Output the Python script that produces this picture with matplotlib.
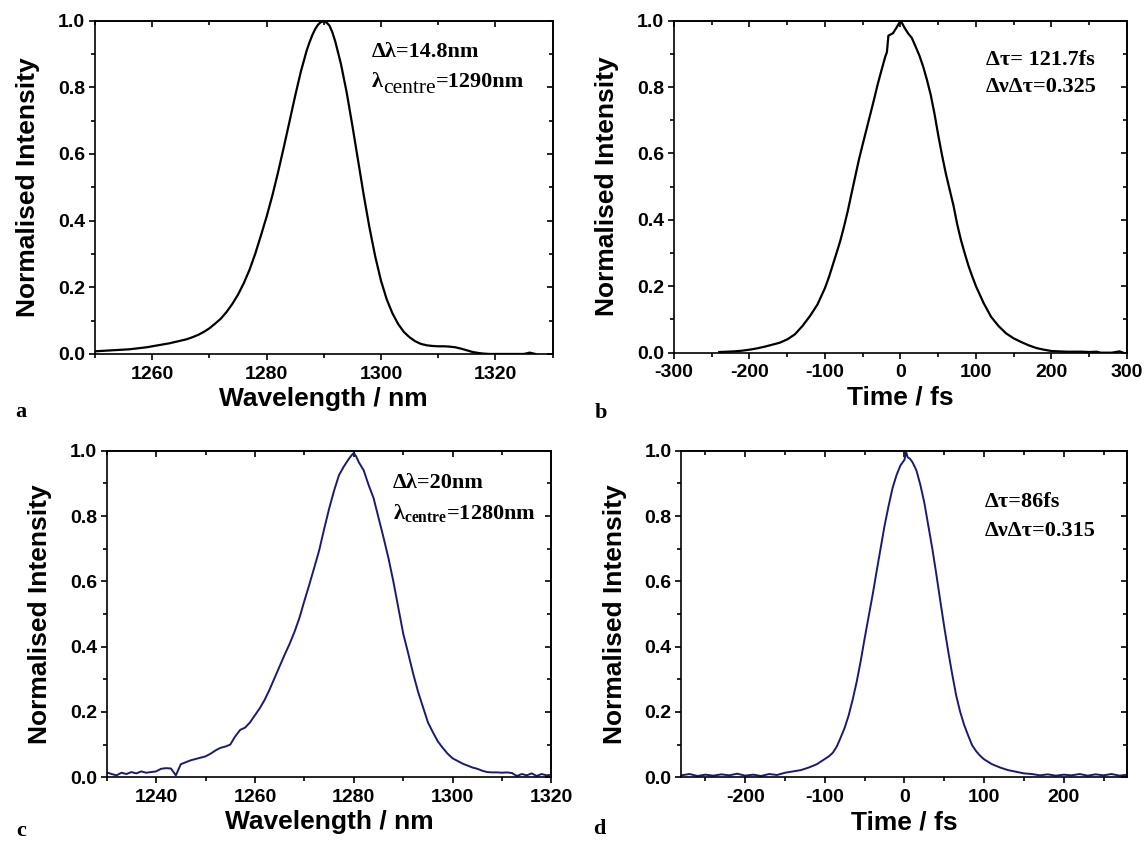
import matplotlib
matplotlib.use("Agg")
import matplotlib.pyplot as plt
from matplotlib.ticker import MultipleLocator

plt.rcParams["axes.unicode_minus"] = False
plt.rcParams["mathtext.fontset"] = "custom"
plt.rcParams["mathtext.rm"] = "Liberation Serif"
plt.rcParams["mathtext.bf"] = "Liberation Serif:bold"

# ---------------- data ----------------
# (a) spectrum, black
wl_a = [1250, 1251, 1252, 1253, 1254, 1255, 1256, 1257, 1258, 1259,
        1260, 1261, 1262, 1263, 1264, 1265, 1266, 1267, 1268, 1269,
        1270, 1271, 1272, 1273, 1274, 1275, 1276, 1277, 1278, 1279,
        1280, 1281, 1282, 1283, 1284, 1285, 1286, 1287, 1287.5, 1288,
        1288.5, 1289, 1289.5, 1290, 1290.5, 1291, 1291.5, 1292, 1293, 1294,
        1295, 1296, 1297, 1298, 1299,
        1300, 1301, 1302, 1303, 1304, 1305, 1306, 1307, 1308, 1309,
        1310, 1311, 1312, 1313, 1314, 1315, 1316, 1317, 1318, 1319,
        1320, 1321, 1322, 1323, 1324, 1325, 1326, 1327]
int_a = [0.008, 0.009, 0.010, 0.011, 0.012, 0.013, 0.014, 0.016, 0.018, 0.020,
         0.023, 0.026, 0.029, 0.032, 0.036, 0.040, 0.044, 0.050, 0.057, 0.066,
         0.077, 0.091, 0.106, 0.126, 0.150, 0.178, 0.212, 0.252, 0.300, 0.355,
         0.412, 0.475, 0.545, 0.620, 0.697, 0.775, 0.848, 0.910, 0.935, 0.957,
         0.975, 0.988, 0.996, 0.998, 0.994, 0.985, 0.965, 0.938, 0.870, 0.785,
         0.685, 0.580, 0.475, 0.378, 0.292,
         0.220, 0.164, 0.122, 0.090, 0.066, 0.050, 0.038, 0.030, 0.026, 0.024,
         0.023, 0.023, 0.022, 0.020, 0.016, 0.011, 0.006, 0.003, 0.001, 0.000,
         0.000, 0.000, 0.000, 0.000, 0.000, 0.000, 0.004, 0.000]

# (b) autocorrelation, black
t_b = [-240, -230, -220, -210, -200, -190, -180, -170, -160, -150,
       -140, -130, -120, -110, -100, -95, -90, -85, -80, -75,
       -70, -65, -60, -55, -50, -45, -40, -35, -30, -25,
       -20, -18, -16, -10, -5, -2, 0, 2, 5, 10,
       15, 20, 25, 30, 35, 40, 45, 50, 55, 60,
       65, 70, 75, 80, 85, 90, 95, 100, 110, 120,
       130, 140, 150, 160, 170, 180, 190, 200, 210, 220,
       230, 240, 250, 260, 265, 280, 290, 295]
int_b = [0.002, 0.003, 0.004, 0.006, 0.009, 0.013, 0.018, 0.024, 0.030, 0.040,
         0.055, 0.080, 0.110, 0.145, 0.195, 0.226, 0.262, 0.298, 0.335, 0.378,
         0.425, 0.478, 0.530, 0.582, 0.628, 0.673, 0.718, 0.763, 0.810, 0.852,
         0.893, 0.905, 0.955, 0.962, 0.980, 0.992, 0.997, 0.993, 0.980, 0.962,
         0.948, 0.922, 0.895, 0.862, 0.822, 0.777, 0.720, 0.655, 0.595, 0.540,
         0.492, 0.445, 0.388, 0.340, 0.300, 0.262, 0.230, 0.200, 0.150, 0.108,
         0.080, 0.058, 0.043, 0.032, 0.022, 0.014, 0.009, 0.005, 0.004, 0.003,
         0.003, 0.003, 0.002, 0.003, 0.000, 0.000, 0.004, 0.000]

# (c) spectrum, navy
wl_c = [1230, 1231, 1232, 1233, 1234, 1235, 1236, 1237, 1238, 1239,
        1240, 1241, 1242, 1243, 1244, 1245, 1246, 1247, 1248, 1249,
        1250, 1251, 1252, 1253, 1254, 1255, 1256, 1257, 1258, 1259,
        1260, 1261, 1262, 1263, 1264, 1265, 1266, 1267, 1268, 1269,
        1270, 1271, 1272, 1273, 1274, 1275, 1276, 1277, 1278, 1279,
        1279.5, 1280, 1280.5, 1281, 1282, 1283, 1284, 1285, 1286, 1287,
        1288, 1289, 1290, 1291, 1292, 1293, 1294, 1295, 1296, 1297,
        1298, 1299, 1300, 1301, 1302, 1303, 1304, 1305, 1306, 1307,
        1308, 1309, 1310, 1311, 1312, 1313, 1314, 1315, 1316, 1317,
        1318, 1319, 1320]
int_c = [0.015, 0.010, 0.006, 0.014, 0.010, 0.016, 0.012, 0.018, 0.014, 0.016,
         0.018, 0.026, 0.028, 0.027, 0.006, 0.040, 0.046, 0.052, 0.056, 0.060,
         0.064, 0.072, 0.082, 0.090, 0.094, 0.100, 0.125, 0.145, 0.152, 0.168,
         0.190, 0.212, 0.238, 0.270, 0.305, 0.340, 0.375, 0.408, 0.445, 0.488,
         0.540, 0.590, 0.642, 0.695, 0.760, 0.822, 0.877, 0.925, 0.952, 0.975,
         0.985, 0.993, 0.982, 0.965, 0.940, 0.895, 0.855, 0.795, 0.735, 0.672,
         0.600, 0.520, 0.440, 0.380, 0.318, 0.262, 0.215, 0.168, 0.138, 0.110,
         0.090, 0.072, 0.058, 0.050, 0.042, 0.036, 0.030, 0.026, 0.020, 0.016,
         0.015, 0.015, 0.014, 0.015, 0.013, 0.004, 0.010, 0.006, 0.012, 0.004,
         0.010, 0.006, 0.008]

# (d) autocorrelation, navy
t_d = [-280, -270, -260, -250, -240, -230, -220, -210, -200, -190,
       -180, -170, -160, -150, -140, -130, -120, -110, -100, -95,
       -90, -85, -80, -75, -70, -65, -60, -55, -50, -45,
       -40, -35, -30, -25, -20, -15, -10, -5, 0, 2,
       4, 7, 10, 15, 20, 25, 30, 35, 40, 45, 50,
       55, 60, 65, 70, 75, 80, 85, 90, 95, 100,
       110, 120, 130, 140, 150, 160, 170, 180, 190, 200,
       210, 220, 230, 240, 250, 260, 270, 280]
int_d = [0.006, 0.010, 0.004, 0.008, 0.005, 0.009, 0.006, 0.011, 0.005, 0.008,
         0.004, 0.010, 0.007, 0.014, 0.018, 0.022, 0.030, 0.040, 0.056, 0.064,
         0.075, 0.094, 0.122, 0.152, 0.190, 0.238, 0.292, 0.355, 0.425, 0.492,
         0.558, 0.630, 0.700, 0.770, 0.830, 0.885, 0.925, 0.955, 0.972, 0.997,
         0.980, 0.975, 0.965, 0.940, 0.895, 0.840, 0.770, 0.700, 0.622, 0.540, 0.460,
         0.385, 0.315, 0.250, 0.200, 0.160, 0.128, 0.098, 0.080, 0.066, 0.055,
         0.040, 0.030, 0.022, 0.017, 0.012, 0.010, 0.006, 0.009, 0.005, 0.008,
         0.006, 0.010, 0.005, 0.009, 0.006, 0.010, 0.005, 0.008]

xlabels = ["Wavelength / nm", "Time / fs", "Wavelength / nm", "Time / fs"]
ylabel = "Normalised Intensity"
panel_letters = ["a", "b", "c", "d"]
notes = [
    ["\u0394\u03bb=14.8nm", None],
    ["\u0394\u03c4= 121.7fs", "\u0394\u03bd\u0394\u03c4=0.325"],
    ["\u0394\u03bb=20nm", "\u03bb$_{\\mathregular{centre}}$=1280nm"],
    ["\u0394\u03c4=86fs", "\u0394\u03bd\u0394\u03c4=0.315"],
]
# panel (a) second line is built from three pieces (large plain subscript)
centre_a = ["\u03bb", "centre", "=1290nm"]

# ---------------- style ----------------
SANS = "Liberation Sans"
SERIF = "Liberation Serif"
BLACK = "#000000"
NAVY = "#1a1a72"

fig = plt.figure(figsize=(11.48, 8.47), dpi=100)

rects = [
    [0.0828, 0.5821, 0.4813 - 0.0828, 0.9756 - 0.5821],
    [0.5871, 0.5836, 0.9817 - 0.5871, 0.9756 - 0.5836],
    [0.0929, 0.0823, 0.4804 - 0.0929, 0.4679 - 0.0823],
    [0.5936, 0.0823, 0.9821 - 0.5936, 0.4679 - 0.0823],
]
xlims = [(1250, 1330), (-300, 300), (1230, 1320), (-280, 280)]
xmajor = [20, 100, 20, 100]
xminor = [10, 50, 10, 50]
series = [(wl_a, int_a, BLACK, 1.6), (t_b, int_b, BLACK, 1.6),
          (wl_c, int_c, NAVY, 1.4), (t_d, int_d, NAVY, 1.4)]
note_pos = [(0.605, 0.907, 0.815), (0.689, 0.881, 0.800),
            (0.643, 0.900, 0.806), (0.680, 0.844, 0.755)]
letter_pos = [(0.013, 0.514), (0.518, 0.512), (0.014, 0.019), (0.517, 0.021)]

for i in range(4):
    ax = fig.add_axes(rects[i])
    x, y, col, lw = series[i]
    ax.plot(x, y, color=col, lw=lw, solid_joinstyle="round")
    ax.set_xlim(*xlims[i])
    ax.set_ylim(0, 1.0)
    ax.xaxis.set_major_locator(MultipleLocator(xmajor[i]))
    ax.xaxis.set_minor_locator(MultipleLocator(xminor[i]))
    ax.yaxis.set_major_locator(MultipleLocator(0.2))
    ax.yaxis.set_minor_locator(MultipleLocator(0.1))
    ax.yaxis.set_major_formatter(plt.FuncFormatter(lambda v, p: f"{v:.1f}"))
    ax.xaxis.set_major_formatter(plt.FuncFormatter(lambda v, p: f"{v:.0f}"))
    for sp in ax.spines.values():
        sp.set_linewidth(1.2)
    ax.tick_params(which="both", direction="out", bottom=True, left=True,
                   top=False, right=False, width=1.2)
    ax.tick_params(which="major", length=4.5, pad=2.5)
    ax.tick_params(which="minor", length=2.8)
    ax.tick_params(axis="x", which="major", pad=4)
    # inward ticks on top and right
    axt = ax.secondary_xaxis("top")
    axt.xaxis.set_major_locator(MultipleLocator(xmajor[i]))
    axt.xaxis.set_minor_locator(MultipleLocator(xminor[i]))
    axt.tick_params(which="both", direction="in", labeltop=False, width=1.2)
    axt.tick_params(which="major", length=4.5)
    axt.tick_params(which="minor", length=2.8)
    axt.spines["top"].set_linewidth(1.2)
    axr = ax.secondary_yaxis("right")
    axr.yaxis.set_major_locator(MultipleLocator(0.2))
    axr.yaxis.set_minor_locator(MultipleLocator(0.1))
    axr.tick_params(which="both", direction="in", labelright=False, width=1.2)
    axr.tick_params(which="major", length=4.5)
    axr.tick_params(which="minor", length=2.8)
    axr.spines["right"].set_linewidth(1.2)

    for lab in ax.get_xticklabels() + ax.get_yticklabels():
        lab.set_fontfamily(SANS)
        lab.set_fontweight("bold")
        lab.set_fontsize(14)
    ax.set_xlabel(xlabels[i], fontfamily=SANS, fontweight="bold",
                  fontsize=19, labelpad=3)
    ax.set_ylabel(ylabel, fontfamily=SANS, fontweight="bold",
                  fontsize=19, labelpad=13)

    nx, ny1, ny2 = note_pos[i]
    ax.text(nx, ny1, notes[i][0], transform=ax.transAxes, ha="left",
            va="center", fontfamily=SERIF, fontweight="bold", fontsize=16)
    if notes[i][1] is not None:
        ax.text(nx, ny2, notes[i][1], transform=ax.transAxes, ha="left",
                va="center", fontfamily=SERIF, fontweight="bold", fontsize=16)
    else:
        t1 = ax.text(nx, ny2, centre_a[0], transform=ax.transAxes, ha="left",
                     va="center", fontfamily=SERIF, fontweight="bold",
                     fontsize=16)
        t2 = ax.annotate(centre_a[1], xy=(1, 0), xycoords=t1,
                         xytext=(0.3, -3.8), textcoords="offset points",
                         ha="left", va="bottom", fontfamily=SERIF,
                         fontweight="normal", fontsize=15.5)
        ax.annotate(centre_a[2], xy=(1, 0), xycoords=(t2, t1),
                    xytext=(0, 0), textcoords="offset points",
                    ha="left", va="bottom", fontfamily=SERIF,
                    fontweight="bold", fontsize=16)

    lx, ly = letter_pos[i]
    fig.text(lx, ly, panel_letters[i], ha="left", va="center",
             fontfamily=SERIF, fontweight="bold", fontsize=16)

fig.savefig("out.png", dpi=100)
